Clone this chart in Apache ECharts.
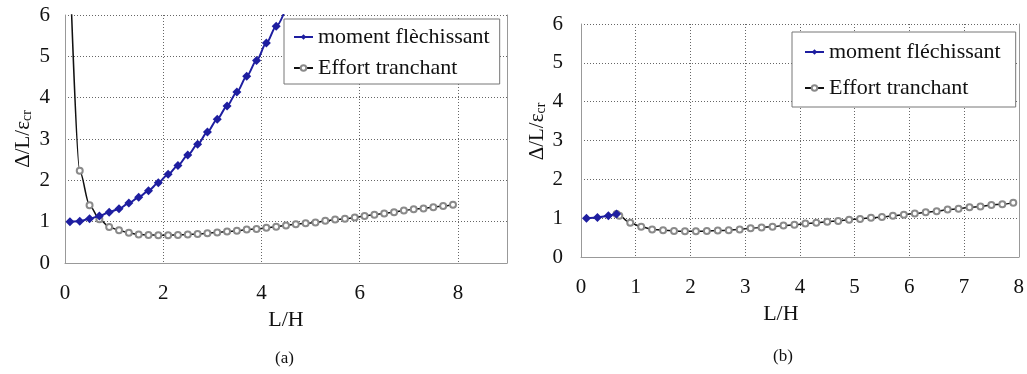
<!DOCTYPE html>
<html>
<head>
<meta charset="utf-8">
<script src="https://cdn.jsdelivr.net/npm/echarts@6/dist/echarts.min.js"></script>
<style>html,body{margin:0;padding:0;background:#fff}#c{width:1027px;height:374px}</style>
</head>
<body>
<div id="c"></div>
<script>
// Panel (a)
const momentA_x = [0.1,0.3,0.5,0.7,0.9,1.1,1.3,1.5,1.7,1.9,2.1,2.3,2.5,2.7,2.9,3.1,3.3,3.5,3.7,3.9,4.1,4.3,4.5];
const momentA_y = [1.00,1.01,1.07,1.14,1.23,1.31,1.45,1.59,1.75,1.94,2.15,2.36,2.61,2.87,3.17,3.48,3.80,4.14,4.52,4.90,5.32,5.73,6.17];
const effortA_x = [0.1,0.3,0.5,0.7,0.9,1.1,1.3,1.5,1.7,1.9,2.1,2.3,2.5,2.7,2.9,3.1,3.3,3.5,3.7,3.9,4.1,4.3,4.5,4.7,4.9,5.1,5.3,5.5,5.7,5.9,6.1,6.3,6.5,6.7,6.9,7.1,7.3,7.5,7.7,7.9];
const effortA_y = [7.2,2.23,1.40,1.06,0.87,0.79,0.73,0.69,0.68,0.67,0.67,0.68,0.69,0.70,0.72,0.74,0.76,0.78,0.81,0.82,0.85,0.88,0.91,0.94,0.96,0.98,1.02,1.05,1.07,1.10,1.14,1.17,1.20,1.23,1.27,1.30,1.32,1.35,1.38,1.41];
// Panel (b)
const momentB_x = [0.1,0.3,0.5,0.65];
const momentB_y = [1.00,1.02,1.06,1.11];
const effortB_x = [0.65,0.7,0.9,1.1,1.3,1.5,1.7,1.9,2.1,2.3,2.5,2.7,2.9,3.1,3.3,3.5,3.7,3.9,4.1,4.3,4.5,4.7,4.9,5.1,5.3,5.5,5.7,5.9,6.1,6.3,6.5,6.7,6.9,7.1,7.3,7.5,7.7,7.9];
const effortB_y = [1.11,1.06,0.88,0.78,0.71,0.69,0.67,0.66,0.66,0.67,0.68,0.69,0.71,0.74,0.76,0.78,0.81,0.83,0.86,0.88,0.91,0.93,0.96,0.98,1.01,1.03,1.06,1.09,1.12,1.15,1.18,1.22,1.24,1.28,1.30,1.34,1.36,1.40];
const yTicks = [0,1,2,3,4,5,6];
const nameMomentA = 'moment flèchissant';
const nameMomentB = 'moment fléchissant';
const nameEffort = 'Effort tranchant';
const xName = 'L/H';
const panelLabels = ['(a)','(b)'];

const pairs = (xs, ys) => xs.map((x, i) => [x, ys[i]]);
const FONT = '"Liberation Serif", "Times New Roman", serif';
const BLUE = '#1e1ea0';
const splitStyle = {show: true, lineStyle: {color: '#666', type: [1, 2], width: 1}};
const axisLineStyle = {show: true, lineStyle: {color: '#999', width: 1}};

function yAxisLeft(grid, gap, margin, pad) {
  return {
    type: 'value', gridIndex: grid, min: 0, max: 6, interval: 1, position: 'left',
    name: '{m|Δ/L/ε}{s|cr}', nameLocation: 'middle', nameGap: gap,
    nameTextStyle: {padding: pad, rich: {m: {fontFamily: FONT, fontSize: 21, color: '#111'}, s: {fontFamily: FONT, fontSize: 14, color: '#111', padding: [8, 0, 0, 0]}}},
    axisLine: axisLineStyle, axisTick: {show: false},
    axisLabel: {margin: margin, fontFamily: FONT, fontSize: 21, color: '#111', formatter: v => yTicks.includes(v) ? String(v) : ''},
    splitLine: splitStyle
  };
}
function yAxisRight(grid) {
  return {type: 'value', gridIndex: grid, min: 0, max: 6, interval: 1, position: 'right',
    axisLine: axisLineStyle, axisTick: {show: false}, axisLabel: {show: false}, splitLine: {show: false}};
}

const option = {
  backgroundColor: '#fff',
  animation: false,
  grid: [
    {left: 65, top: 15, width: 442, height: 248},
    {left: 581, top: 24, width: 440, height: 233}
  ],
  xAxis: [
    {type: 'value', gridIndex: 0, min: 0, max: 9, interval: 2,
     name: xName, nameLocation: 'middle', nameGap: 41,
     nameTextStyle: {fontFamily: FONT, fontSize: 22, color: '#111'},
     axisLine: axisLineStyle, axisTick: {show: false},
     axisLabel: {margin: 20, fontFamily: FONT, fontSize: 21, color: '#111', showMaxLabel: false},
     splitLine: splitStyle},
    {type: 'value', gridIndex: 1, min: 0, max: 8, interval: 1,
     name: xName, nameLocation: 'middle', nameGap: 44,
     nameTextStyle: {fontFamily: FONT, fontSize: 22, color: '#111', padding: [0, 38, 0, 0]},
     axisLine: axisLineStyle, axisTick: {show: false},
     axisLabel: {margin: 20, fontFamily: FONT, fontSize: 21, color: '#111'},
     splitLine: splitStyle}
  ],
  yAxis: [
    yAxisLeft(0, 31, 15, [0, 0, 0, 0]),
    yAxisLeft(1, 28, 18, [0, 0, 0, 18]),
    yAxisRight(0),
    yAxisRight(1)
  ],
  legend: [
    {orient: 'vertical', left: 284, top: 19, padding: [6, 10, 4, 9], itemGap: 7, itemWidth: 19, itemHeight: 7,
     backgroundColor: '#fff', borderColor: '#777', borderWidth: 1,
     textStyle: {fontFamily: FONT, fontSize: 22, color: '#111', lineHeight: 24},
     data: [nameMomentA, nameEffort + ' ']},
    {orient: 'vertical', left: 792, top: 32, padding: [8, 15, 7, 12], itemGap: 12, itemWidth: 19, itemHeight: 7,
     backgroundColor: '#fff', borderColor: '#777', borderWidth: 1,
     textStyle: {fontFamily: FONT, fontSize: 22, color: '#111', lineHeight: 24},
     data: [nameMomentB, nameEffort]}
  ],
  series: [
    {name: nameMomentA, type: 'line', xAxisIndex: 0, yAxisIndex: 0, data: pairs(momentA_x, momentA_y),
     symbol: 'diamond', symbolSize: 9, smooth: 0.3, smoothMonotone: 'x', clip: true,
     itemStyle: {color: BLUE}, lineStyle: {color: BLUE, width: 2}, z: 3},
    {name: nameEffort + ' ', type: 'line', xAxisIndex: 0, yAxisIndex: 0, data: pairs(effortA_x, effortA_y),
     symbol: 'emptyCircle', symbolSize: 6, smooth: 0.3, smoothMonotone: 'x', clip: true,
     itemStyle: {color: '#8a8a8a', borderWidth: 1}, lineStyle: {color: '#111', width: 1.5}, z: 2},
    {name: nameMomentB, type: 'line', xAxisIndex: 1, yAxisIndex: 1, data: pairs(momentB_x, momentB_y),
     symbol: 'diamond', symbolSize: 9, clip: true,
     itemStyle: {color: BLUE}, lineStyle: {color: BLUE, width: 2}, z: 3},
    {name: nameEffort, type: 'line', xAxisIndex: 1, yAxisIndex: 1, data: pairs(effortB_x, effortB_y),
     symbol: 'emptyCircle', symbolSize: 6, smooth: 0.3, smoothMonotone: 'x', clip: true,
     itemStyle: {color: '#8a8a8a', borderWidth: 1}, lineStyle: {color: '#111', width: 1.5}, z: 2}
  ],
  graphic: [
    {type: 'text', left: 275, top: 350, style: {text: panelLabels[0], font: '17px ' + FONT, fill: '#111'}},
    {type: 'text', left: 773, top: 348, style: {text: panelLabels[1], font: '17px ' + FONT, fill: '#111'}}
  ]
};
const chart = echarts.init(document.getElementById('c'), null, {renderer: 'canvas'});
chart.setOption(option);
</script>
</body>
</html>
